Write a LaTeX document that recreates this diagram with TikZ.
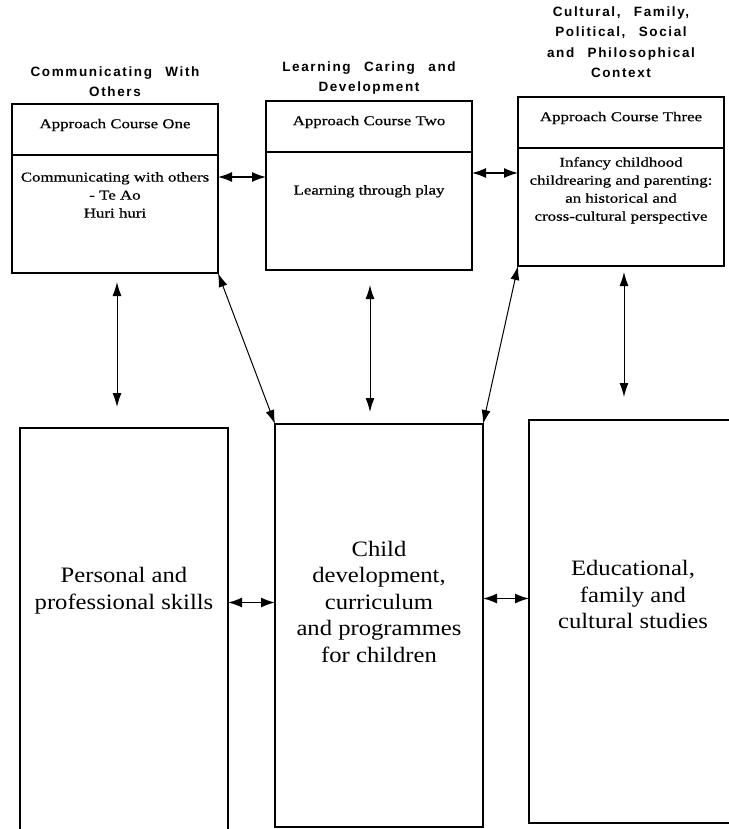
\documentclass[tikz,border=0pt]{standalone}
\usepackage{fontspec}
\setmainfont{Liberation Serif}
\newfontfamily\headfont[LetterSpace=12,WordSpace=2.5]{Liberation Sans}
\newfontfamily\coursefont[FakeStretch=1.25,FakeBold=0.6]{Liberation Serif}
\newfontfamily\stripfont[FakeStretch=1.12]{Liberation Serif}
\usetikzlibrary{positioning}
\usetikzlibrary{arrows.meta}

\begin{document}
\begin{tikzpicture}[x=1pt, y=-1pt,
  heading/.style={font=\headfont\bfseries\fontsize{13.5}{20.5}\selectfont, align=center, inner sep=0pt},
  coursehead/.style={draw, line width=1.3pt, minimum width=206pt, minimum height=51pt, inner sep=0pt, outer sep=0pt, text depth=12pt, font=\coursefont\fontsize{13.5}{18}\selectfont},
  coursebody/.style={draw, line width=1.3pt, minimum width=206pt, minimum height=118pt, inner sep=0pt, outer sep=0pt},
  coursetext/.style={font=\coursefont\fontsize{13.5}{18}\selectfont, align=center, inner sep=0pt},
  strip/.style={draw, line width=1.3pt, minimum width=208pt, minimum height=403pt, inner sep=0pt, outer sep=0pt},
  striptext/.style={font=\stripfont\fontsize{22}{26.5}\selectfont, align=center, inner sep=0pt},
  link/.style={{Latex[length=14pt,width=10pt]}-{Latex[length=14pt,width=10pt]}, line width=1.3pt},
  vlink/.style={{Latex[length=14pt,width=9pt]}-{Latex[length=14pt,width=9pt]}, line width=1pt}]

 \useasboundingbox (0,0) rectangle (728,829);

 %approach courses
 \foreach \i/\cx/\top/\course in {1/115/104/One, 2/369/101/Two, 3/621/97/Three} {
         \node[coursehead, anchor=north] (hd\i) at (\cx,\top) {Approach Course \course};
         \node[coursebody, below=0pt of hd\i] (bd\i) {};
 }

 %titles
 \foreach \i/\up/\txt in {1/7pt/{Communicating With\\Others}, 2/6pt/{Learning Caring and\\Development}, 3/19pt/{Cultural, Family,\\Political, Social\\and Philosophical\\Context}} {
         \node[heading, anchor=south] (tl\i) at ([yshift=\up]hd\i.north) {\txt};
 }

 %course texts
 \foreach \i/\off/\txt in {1/17pt/{Communicating with others\\- Te Ao\\Huri huri}, 2/33pt/{Learning through play}, 3/9pt/{Infancy childhood\\childrearing and parenting:\\an historical and\\cross-cultural perspective}} {
         \node[coursetext, anchor=north] (ct\i) at ([yshift=-\off]bd\i.north) {\txt};
 }

 %strands
 \foreach \i/\cx/\top in {1/124/428, 2/379/424, 3/633/420} {
         \node[strip, anchor=north] (st\i) at (\cx,\top) {};
 }
 \foreach \i/\up/\txt in {1/39pt/{Personal and\\professional skills}, 2/24pt/{Child\\development,\\curriculum\\and programmes\\for children}, 3/27pt/{Educational,\\family and\\cultural studies}} {
         \node[striptext] (sx\i) at ([yshift=\up]st\i.center) {\txt};
 }

 %arrows across
 \coordinate (h12) at ([yshift=-22pt]bd1.north east);
 \coordinate (h23) at ([yshift=-21pt]bd2.north east);
 \coordinate (b12) at ([yshift=27pt]st1.east);
 \coordinate (b23) at ([yshift=27pt]st2.east);
 \draw[link] (h12) -- (h12 -| bd2.west);
 \draw[link] (h23) -- (h23 -| bd3.west);
 \draw[link] (b12) -- (b12 -| st2.west);
 \draw[link] (b23) -- (b23 -| st3.west);

 %arrows down
 \coordinate (v1) at ([xshift=2pt]bd1.south);
 \coordinate (v2) at ([xshift=1pt]bd2.south);
 \coordinate (v3) at ([xshift=3pt]bd3.south);
 \draw[vlink, shorten <=9pt, shorten >=21pt] (v1) -- (v1 |- st1.north);
 \draw[vlink, shorten <=15pt, shorten >=12pt] (v2) -- (v2 |- st2.north);
 \draw[vlink, shorten <=6pt, shorten >=23pt] (v3) -- (v3 |- st3.north);
 \draw[vlink] (bd1.south east) -- (st2.north west);
 \draw[vlink] (bd3.south west) -- (st2.north east);

\end{tikzpicture}
\end{document}
